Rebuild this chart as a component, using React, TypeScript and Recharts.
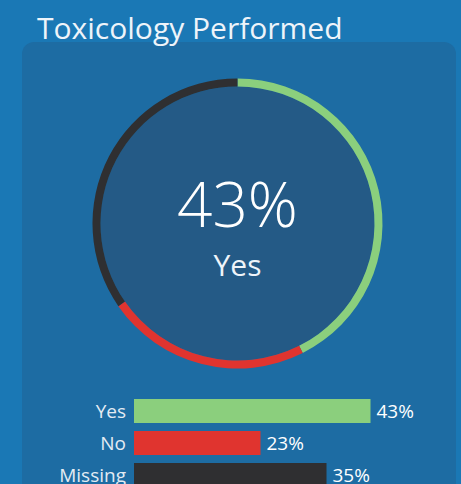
import { Bar, BarChart, Cell, LabelList, Pie, PieChart, XAxis, YAxis } from "recharts";

const categories = ["Yes", "No", "Missing"];
const shares = [43, 23, 35];
const colors = ["#8bcf7d", "#e0342f", "#2f2f31"];

const data = categories.map((name, i) => ({ name, value: shares[i] }));
const fillDisc = [{ name: "bg", value: 1 }];

const FONT = "'Open Sans', 'Noto Sans', sans-serif";

export default function App() {
  return (
    <div
      style={{
        position: "absolute",
        left: 0,
        top: 0,
        width: 461,
        height: 484,
        overflow: "hidden",
        background: "#1a78b5",
        fontFamily: FONT,
      }}
    >
      <div
        style={{
          position: "absolute",
          left: 22,
          top: 42,
          width: 434,
          height: 470,
          borderRadius: 12,
          background: "#1d6ca3",
        }}
      />

      <div
        style={{
          position: "absolute",
          left: 37,
          top: 10,
          fontSize: 30,
          lineHeight: "36px",
          color: "#eef4fa",
          whiteSpace: "nowrap",
        }}
      >
        Toxicology Performed
      </div>

      <div style={{ position: "absolute", left: 0, top: 0 }}>
        <PieChart width={461} height={380} margin={{ top: 0, right: 0, bottom: 0, left: 0 }}>
          <Pie
            data={fillDisc}
            dataKey="value"
            cx={237.5}
            cy={223.5}
            innerRadius={0}
            outerRadius={137}
            fill="#245a86"
            stroke="none"
            isAnimationActive={false}
          />
          <Pie
            data={data}
            dataKey="value"
            cx={237.5}
            cy={223.5}
            innerRadius={137}
            outerRadius={145}
            startAngle={90}
            endAngle={-270}
            stroke="none"
            isAnimationActive={false}
          >
            {data.map((d, i) => (
              <Cell key={d.name} fill={colors[i]} />
            ))}
          </Pie>
        </PieChart>
      </div>

      <div
        style={{
          position: "absolute",
          left: 137.5,
          width: 200,
          top: 168,
          textAlign: "center",
          color: "#ffffff",
          fontSize: 62,
          fontWeight: 300,
          lineHeight: "70px",
        }}
      >
        {data[0].value}%
      </div>
      <div
        style={{
          position: "absolute",
          left: 137.5,
          width: 200,
          top: 247,
          textAlign: "center",
          color: "#eef4fa",
          fontSize: 30,
          lineHeight: "36px",
        }}
      >
        {data[0].name}
      </div>

      <div style={{ position: "absolute", left: 0, top: 395 }}>
        <BarChart
          width={461}
          height={96}
          data={data}
          layout="vertical"
          margin={{ top: 0, right: 52, bottom: 0, left: 0 }}
          barSize={24}
        >
          <XAxis type="number" domain={[0, 50]} hide />
          <YAxis
            type="category"
            dataKey="name"
            width={134}
            axisLine={false}
            tickLine={false}
            tickSize={0}
            tickMargin={8}
            tick={{ fill: "#e3ebf3", fontSize: 19, fontFamily: FONT }}
          />
          <Bar dataKey="value" isAnimationActive={false}>
            {data.map((d, i) => (
              <Cell key={d.name} fill={colors[i]} />
            ))}
            <LabelList
              dataKey="value"
              position="right"
              offset={6}
              formatter={(v: any) => `${v}%`}
              fill="#ffffff"
              style={{ fontSize: 19, fontFamily: FONT }}
            />
          </Bar>
        </BarChart>
      </div>
    </div>
  );
}
